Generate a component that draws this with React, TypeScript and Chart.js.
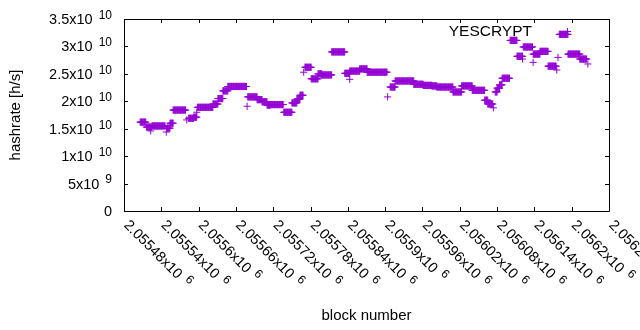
import React, { useEffect, useRef } from 'react';
import { Chart, registerables } from 'chart.js';
Chart.register(...registerables);

// Block numbers are stored as offsets from blockBase.
const blockBase = 2055480;
// Runs of consecutive blocks sharing one hashrate estimate (value in units of 1e10 h/s)
const runStart = [26, 36, 45, 69, 74, 79, 104, 112, 118, 143, 151, 159, 167, 199, 214, 222, 230, 235, 257, 270, 278, 283, 291, 301, 312, 318, 334, 355, 363, 379, 391, 428, 436, 466, 481, 495, 503, 529, 543, 560, 580, 585, 597, 600, 604, 608, 621, 632, 642, 658, 669, 682, 700, 714, 733];
const runEnd = [35, 44, 66, 74, 79, 99, 112, 117, 143, 151, 159, 167, 197, 214, 222, 230, 235, 256, 270, 278, 283, 288, 301, 312, 318, 334, 355, 363, 379, 391, 423, 436, 466, 481, 495, 503, 529, 543, 560, 580, 585, 593, 600, 604, 608, 620, 632, 641, 657, 669, 682, 695, 714, 733, 744];
const runValue = [1.62, 1.53, 1.55, 1.51, 1.60, 1.84, 1.69, 1.71, 1.89, 1.95, 2.05, 2.19, 2.27, 2.08, 2.03, 1.99, 1.93, 1.94, 1.80, 1.97, 2.04, 2.11, 2.62, 2.41, 2.50, 2.48, 2.90, 2.51, 2.55, 2.59, 2.53, 2.26, 2.37, 2.31, 2.29, 2.28, 2.26, 2.17, 2.28, 2.20, 2.02, 1.95, 2.17, 2.24, 2.30, 2.42, 3.11, 2.82, 2.99, 2.86, 2.91, 2.64, 3.22, 2.86, 2.77];
// Isolated estimates
const singleBlock = [43, 68, 101, 117, 198, 289, 363, 424, 594, 641, 658, 696, 698, 746];
const singleValue = [1.46, 1.44, 1.66, 1.80, 1.91, 2.53, 2.40, 2.08, 1.88, 2.77, 2.71, 2.57, 2.80, 2.68];

const xTickValues = [2055480, 2055540, 2055600, 2055660, 2055720, 2055780, 2055840, 2055900, 2055960, 2056020, 2056080, 2056140, 2056200, 2056260];
const xTickLabels = ['2.05548x10^6', '2.05554x10^6', '2.0556x10^6', '2.05566x10^6', '2.05572x10^6', '2.05578x10^6', '2.05584x10^6', '2.0559x10^6', '2.05596x10^6', '2.05602x10^6', '2.05608x10^6', '2.05614x10^6', '2.0562x10^6', '2.05626x10^6'];
const yTickValues = [0, 5e9, 1e10, 1.5e10, 2e10, 2.5e10, 3e10, 3.5e10];
const yTickLabels = ['0', '5x10^9', '1x10^10', '1.5x10^10', '2x10^10', '2.5x10^10', '3x10^10', '3.5x10^10'];
const seriesName = 'YESCRYPT';
const xTitle = 'block number';
const yTitle = 'hashrate [h/s]';
const seriesColor = '#9400D3';

const FAMILY = '"Liberation Sans", Arial, sans-serif';
const MAIN = `14.5px ${FAMILY}`;
const SUP = `12px ${FAMILY}`;

function buildPoints() {
  const pts: { x: number; y: number }[] = [];
  for (let i = 0; i < runStart.length; i++) {
    for (let b = runStart[i]; b <= runEnd[i]; b++) pts.push({ x: blockBase + b, y: runValue[i] * 1e10 });
  }
  for (let i = 0; i < singleBlock.length; i++) pts.push({ x: blockBase + singleBlock[i], y: singleValue[i] * 1e10 });
  return pts;
}

function supLabel(ctx: CanvasRenderingContext2D, label: string, x: number, y: number, alignRight: boolean) {
  const parts = label.split('^');
  const base = parts[0];
  const exp = parts[1];
  ctx.font = MAIN;
  const w1 = ctx.measureText(base).width + (exp ? 6 : 0);
  ctx.font = SUP;
  const w2 = exp ? ctx.measureText(exp).width : 0;
  const x0 = alignRight ? x - w1 - w2 : x;
  ctx.textAlign = 'left';
  ctx.textBaseline = 'middle';
  ctx.font = MAIN;
  ctx.fillText(base, x0, y);
  if (exp) {
    ctx.font = SUP;
    ctx.fillText(exp, x0 + w1, y - 4.5);
  }
}

const gnuplotPlugin = {
  id: 'gnuplotDecor',
  afterDraw(chart: any) {
    const ctx: CanvasRenderingContext2D = chart.ctx;
    const { left, right, top, bottom } = chart.chartArea;
    const xs = chart.scales.x;
    const ys = chart.scales.y;
    ctx.save();
    ctx.strokeStyle = '#000';
    ctx.lineWidth = 1;
    ctx.beginPath();
    ctx.rect(Math.round(left) + 0.5, Math.round(top) + 0.5, Math.round(right - left), Math.round(bottom - top));
    ctx.stroke();
    // tick marks (inward, mirrored)
    ctx.beginPath();
    yTickValues.forEach((v) => {
      const py = Math.round(ys.getPixelForValue(v)) + 0.5;
      ctx.moveTo(left, py); ctx.lineTo(left + 4, py);
      ctx.moveTo(right, py); ctx.lineTo(right - 4, py);
    });
    xTickValues.forEach((v) => {
      const px = Math.round(xs.getPixelForValue(v)) + 0.5;
      ctx.moveTo(px, bottom); ctx.lineTo(px, bottom - 4);
      ctx.moveTo(px, top); ctx.lineTo(px, top + 4);
    });
    ctx.stroke();
    ctx.fillStyle = '#000';
    // y tick labels
    yTickValues.forEach((v, i) => {
      const py = ys.getPixelForValue(v);
      supLabel(ctx, yTickLabels[i], 112, py + 1, true);
    });
    // x tick labels, rotated 45 degrees
    xTickValues.forEach((v, i) => {
      const px = xs.getPixelForValue(v);
      ctx.save();
      ctx.translate(px + 2, bottom + 12);
      ctx.rotate(Math.PI / 4);
      supLabel(ctx, xTickLabels[i], 0, 0, false);
      ctx.restore();
    });
    // axis titles
    ctx.font = `15px ${FAMILY}`;
    ctx.textAlign = 'center';
    ctx.textBaseline = 'middle';
    ctx.fillText(xTitle, (left + right) / 2, 316);
    ctx.save();
    ctx.translate(16, (top + bottom) / 2);
    ctx.rotate(-Math.PI / 2);
    ctx.fillText(yTitle, 0, 0);
    ctx.restore();
    // key
    ctx.font = `15.5px ${FAMILY}`;
    ctx.textAlign = 'right';
    ctx.fillText(seriesName, 532, 32);
    ctx.strokeStyle = seriesColor;
    ctx.beginPath();
    ctx.moveTo(563, 31.5); ctx.lineTo(571, 31.5);
    ctx.moveTo(567.5, 28); ctx.lineTo(567.5, 35);
    ctx.stroke();
    ctx.restore();
  },
};

export default function App() {
  const ref = useRef<HTMLCanvasElement | null>(null);
  useEffect(() => {
    if (!ref.current) return;
    const chart = new Chart(ref.current, {
      type: 'scatter',
      data: {
        datasets: [
          {
            label: seriesName,
            data: buildPoints(),
            pointStyle: 'cross',
            pointRadius: 3.6,
            pointHoverRadius: 3.6,
            borderColor: seriesColor,
            backgroundColor: seriesColor,
            borderWidth: 1,
          },
        ],
      },
      options: {
        animation: false,
        responsive: false,
        maintainAspectRatio: false,
        events: [],
        layout: { padding: { left: 124, right: 31, top: 19, bottom: 119 } },
        plugins: { legend: { display: false }, tooltip: { enabled: false } },
        scales: {
          x: { type: 'linear', min: 2055480, max: 2056260, display: false },
          y: { type: 'linear', min: 0, max: 3.5e10, display: false },
        },
      },
      plugins: [gnuplotPlugin],
    } as any);
    return () => chart.destroy();
  }, []);
  return (
    <div style={{ position: 'fixed', left: 0, top: 0, width: 640, height: 330, background: '#fff' }}>
      <canvas ref={ref} width={640} height={330} style={{ display: 'block' }} />
    </div>
  );
}
